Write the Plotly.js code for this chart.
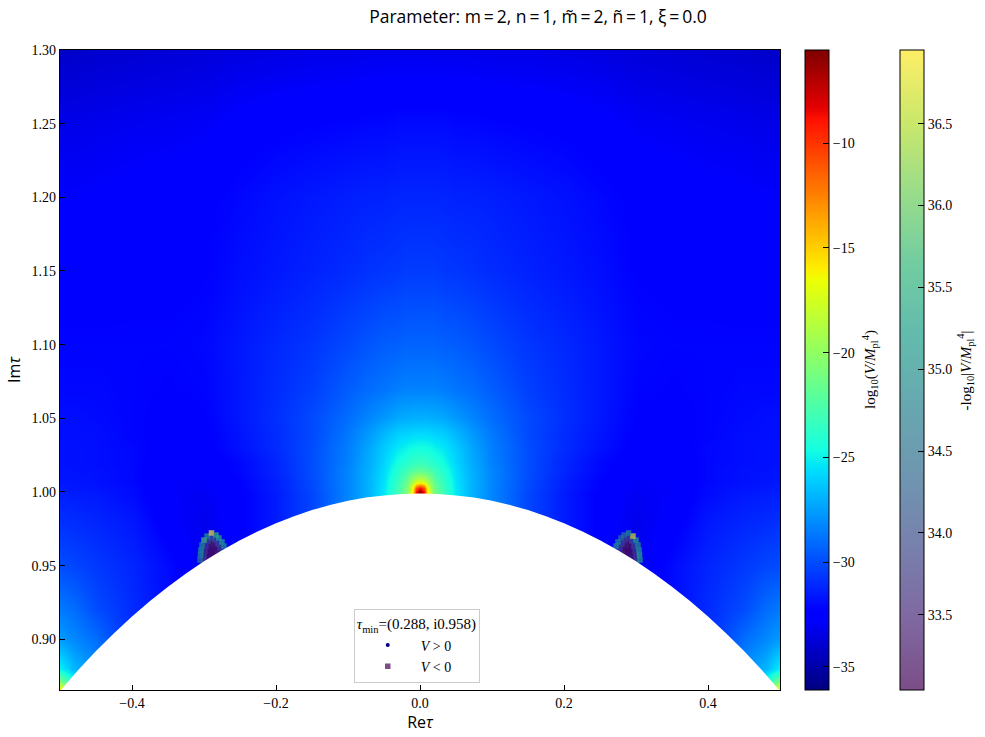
<!DOCTYPE html>
<html><head><meta charset="utf-8">
<script src="https://cdn.plot.ly/plotly-3.0.1.min.js"></script>
<style>html,body{margin:0;padding:0;background:#fff}</style></head>
<body><div id="chart" style="width:985px;height:737px"></div>
<script>
// Re(tau) columns, right half; the picture is mirror symmetric about Re(tau)=0
const reHalf=[0,.005,.01,.015,.02,.03,.05,.07,.1,.15,.2,.25,.3,.35,.4,.45,.48,.5];
const imRows=[.866,.872,.88,.90,.92,.95,.98,1.0,1.003,1.0068,1.01,1.015,1.02,1.03,1.04,1.05,1.07,1.10,1.15,1.20,1.25,1.30];
// log10(V/Mpl^4), one row per imRows value
const logV=[
[-6,-9,-15.5,-19,-21,-23,-25.4,-26.8,-28.3,-30.2,-31.5,-32.4,-33,-31.5,-30.5,-27,-23,-16],
[-6,-9,-15.5,-19,-21,-23,-25.4,-26.8,-28.3,-30.2,-31.5,-32.4,-33,-31.5,-30.5,-27.5,-24.5,-21],
[-6,-9,-15.5,-19,-21,-23,-25.4,-26.8,-28.3,-30.2,-31.5,-32.4,-33,-32,-30.5,-28,-26.8,-25],
[-6,-9,-15.5,-19,-21,-23,-25.4,-26.8,-28.3,-30.2,-31.5,-32.4,-33,-32,-31,-29,-28.2,-27.6],
[-6,-9,-15.5,-19,-21,-23,-25.4,-26.8,-28.3,-30.2,-31.5,-32.4,-33,-32,-31,-30,-29,-28.6],
[-6,-9,-15.5,-19,-21,-23,-25.4,-26.8,-28.3,-30.2,-31.5,-32.4,-33.2,-32,-31.2,-30.6,-30.2,-30],
[-6,-9,-15.5,-19,-21,-23,-25.4,-26.8,-28.3,-30.2,-31.5,-32.4,-33.2,-32.6,-31.6,-31.2,-31,-30.9],
[-6,-9,-15.5,-19,-21,-23,-25.4,-26.8,-28.3,-30.2,-31.5,-32.4,-33,-32.8,-32,-31.6,-31.5,-31.4],
[-9,-11,-16,-19.2,-21.1,-23,-25.4,-26.8,-28.3,-30.1,-31.4,-32.3,-32.9,-32.8,-32,-31.7,-31.6,-31.5],
[-17,-17.5,-19,-20.5,-21.8,-23.3,-25.5,-26.8,-28.3,-30.1,-31.4,-32.3,-32.9,-32.8,-32.1,-31.8,-31.7,-31.6],
[-19.5,-19.7,-20.4,-21.3,-22.3,-23.6,-25.6,-26.8,-28.3,-30,-31.3,-32.2,-32.8,-32.7,-32.1,-31.8,-31.7,-31.7],
[-22,-22.1,-22.4,-22.8,-23.2,-24,-25.7,-26.9,-28.3,-30,-31.2,-32.1,-32.7,-32.6,-32.1,-31.8,-31.8,-31.7],
[-23.3,-23.3,-23.5,-23.7,-24,-24.5,-25.9,-27,-28.4,-30,-31.2,-32.1,-32.6,-32.6,-32.1,-31.9,-31.8,-31.8],
[-24.6,-24.6,-24.7,-24.8,-25,-25.3,-26.2,-27.2,-28.5,-30,-31,-31.8,-32.5,-32.5,-32.1,-31.9,-31.8,-31.8],
[-25.8,-25.8,-25.8,-25.9,-26,-26.1,-26.8,-27.6,-28.7,-30.1,-31,-31.7,-32.4,-32.4,-32.2,-31.9,-31.9,-31.9],
[-27,-27,-27,-27.1,-27.1,-27.2,-27.7,-28.2,-29,-30.1,-30.9,-31.6,-32.3,-32.4,-32.2,-32,-31.9,-31.9],
[-28.4,-28.4,-28.4,-28.4,-28.4,-28.5,-28.8,-29,-29.5,-30.4,-31,-31.6,-32.2,-32.3,-32.2,-32.1,-32.1,-32.1],
[-29.3,-29.3,-29.3,-29.3,-29.3,-29.4,-29.5,-29.7,-30.1,-30.7,-31.1,-31.6,-32.1,-32.2,-32.2,-32.2,-32.2,-32.2],
[-30.5,-30.5,-30.5,-30.5,-30.5,-30.6,-30.7,-30.8,-31,-31.3,-31.6,-31.9,-32.3,-32.4,-32.4,-32.5,-32.5,-32.5],
[-31.2,-31.2,-31.2,-31.2,-31.2,-31.2,-31.3,-31.3,-31.4,-31.6,-31.8,-32.1,-32.4,-32.5,-32.6,-32.7,-32.8,-32.8],
[-32,-32,-32,-32,-32,-32,-32.1,-32.1,-32.2,-32.3,-32.4,-32.6,-32.9,-33,-33.1,-33.2,-33.3,-33.3],
[-33.2,-33.2,-33.2,-33.2,-33.2,-33.2,-33.2,-33.2,-33.3,-33.3,-33.4,-33.5,-33.7,-33.8,-33.9,-34,-34.1,-34.2]];
// edge of the white region, right half
const edgeRe=[0,.025,.05,.075,.1,.125,.15,.175,.2,.225,.25,.275,.3,.325,.35,.375,.4,.425,.45,.475,.5];
const edgeIm=[.999,.9987,.9977,.9962,.994,.9912,.9877,.9836,.9788,.9733,.9672,.9604,.953,.9447,.9357,.926,.9155,.9042,.892,.879,.865];
// V<0 points of the left island, mirrored for the right one: -log10|V/Mpl^4|
const negReLeft=[-.2917,-.2903,-.2889,-.2875,-.2847,
 -.2958,-.2944,-.2931,-.2917,-.2896,-.2861,-.2833,-.2806,
 -.3007,-.3,-.2986,-.2972,-.2944,-.2896,-.2847,-.2806,-.2778,
 -.3056,-.3049,-.3042,-.3028,-.3,-.2958,-.2896,-.2833,-.2792,-.275,-.2722];
const negImLeft=[.951,.9538,.9572,.9606,.958,
 .9525,.9559,.9593,.9627,.9654,.964,.9613,.9586,
 .9532,.9566,.96,.9633,.9667,.9688,.9674,.9647,.962,
 .9538,.9572,.9606,.964,.9674,.9701,.9722,.9708,.9688,.9661,.9633];
const negValLeft=[33.05,33.1,33.1,33.15,33.2,
 33.2,33.2,33.15,33.2,33.3,33.3,33.2,33.3,
 33.7,33.8,33.6,33.7,33.8,34.1,34,33.9,33.8,
 34.6,35,35.2,35,35.8,35.2,36.9,35.6,35.4,35.3,35.1];
const negValRight=[33.05,33.1,33.15,33.1,33.2,
 33.2,33.3,33.15,33.2,33.2,33.3,33.2,33.3,
 33.8,33.7,33.7,33.8,34,33.8,33.7,33.8,33.7,
 35.2,35.4,35.3,35,35.3,36.7,35,34.6,34.5,34.9,35];
const jetTicks=[-35,-30,-25,-20,-15,-10];
const viridisTicks=[33.5,34,34.5,35,35.5,36,36.5];
const titleText='Parameter: m\u2009=\u20092, n\u2009=\u20091, m\u0303\u2009=\u20092, n\u0303\u2009=\u20091, \u03BE\u2009=\u20090.0';

const jet=[[0,'rgb(0,0,127)'],[.11,'rgb(0,0,255)'],[.125,'rgb(0,0,255)'],[.34,'rgb(0,219,255)'],[.35,'rgb(0,229,247)'],[.375,'rgb(20,255,226)'],[.64,'rgb(237,255,4)'],[.65,'rgb(247,246,0)'],[.66,'rgb(255,236,0)'],[.89,'rgb(255,18,0)'],[.91,'rgb(228,0,0)'],[1,'rgb(127,0,0)']];
const vir=['68,1,84','72,40,120','62,73,137','49,104,142','38,130,142','31,158,137','53,183,121','110,206,88','181,222,43','253,231,37']
  .map((c,i)=>[i/9,'rgba('+c+',0.7)']);
const mirror=a=>a.slice(1).reverse();
const xs=[...mirror(reHalf).map(v=>-v),...reHalf];
const zs=logV.map(r=>[...mirror(r),...r]);
const edgeXs=[...mirror(edgeRe).map(v=>-v),...edgeRe];
const edgeYs=[...mirror(edgeIm),...edgeIm];
const negRe=[...negReLeft,...negReLeft.map(v=>-v)];
const negIm=[...negImLeft,...negImLeft];
const negVal=[...negValLeft,...negValRight];
const serif='"Liberation Serif",serif', sans='"Open Sans",sans-serif';
const tickFont={family:serif,size:14,color:'#000'};

const traces=[
 {type:'heatmap',x:xs,y:imRows,z:zs,zmin:-36.1,zmax:-5.56,zsmooth:'best',colorscale:jet,hoverinfo:'skip',
  colorbar:{x:1.0347,xanchor:'left',xpad:0,ypad:0,y:0.5,yanchor:'middle',len:1,thickness:24,outlinewidth:1,outlinecolor:'#000',
   tickmode:'array',tickvals:jetTicks,ticks:'inside',ticklen:6,tickcolor:'#000',tickfont:tickFont}},
 {type:'scatter',mode:'markers',name:'<i>V</i> > 0',x:[null],y:[null],marker:{symbol:'circle',size:4,color:'#00007f'}},
 {type:'scatter',mode:'markers',name:'<i>V</i> &lt; 0',x:negRe,y:negIm,
  marker:{symbol:'square',size:5.5,color:negVal,cmin:33.04,cmax:36.95,colorscale:vir,line:{width:0},
   colorbar:{x:1.1667,xanchor:'left',xpad:0,ypad:0,y:0.5,yanchor:'middle',len:1,thickness:24,outlinewidth:1,outlinecolor:'#000',
    tickmode:'array',tickvals:viridisTicks,tickformat:'.1f',ticks:'inside',ticklen:6,tickcolor:'#000',tickfont:tickFont}}},
 {type:'scatter',mode:'lines',x:[...edgeXs,.5,-.5],y:[...edgeYs,.86,.86],fill:'toself',fillcolor:'#fff',line:{width:0},showlegend:false,hoverinfo:'skip'}
];
const layout={width:985,height:737,margin:{l:60,r:205,t:50,b:47},paper_bgcolor:'#fff',plot_bgcolor:'#fff',
 title:{text:titleText,font:{family:sans,size:17.5,color:'#000'},x:538/985,xanchor:'center',y:0.977,yanchor:'middle'},
 xaxis:{range:[-.5,.5],tick0:0,dtick:.2,tickformat:'.1f',ticks:'inside',ticklen:5,tickcolor:'#000',showline:true,mirror:true,linecolor:'#000',linewidth:1.3,showgrid:false,zeroline:false,
  tickfont:tickFont,title:{text:'Re<i>\u03C4</i>',font:{family:sans,size:16,color:'#000'},standoff:4}},
 yaxis:{range:[.8656,1.3],tick0:.9,dtick:.05,tickformat:'.2f',ticks:'inside',ticklen:5,tickcolor:'#000',showline:true,mirror:true,linecolor:'#000',linewidth:1.3,showgrid:false,zeroline:false,
  tickfont:tickFont,title:{text:'Im<i>\u03C4</i>',font:{family:sans,size:16,color:'#000'},standoff:6}},
 legend:{x:.408,y:.011,xanchor:'left',yanchor:'bottom',bgcolor:'rgba(255,255,255,0.85)',bordercolor:'#ccc',borderwidth:1,itemwidth:56,entrywidth:77,
  font:{family:serif,size:14,color:'#000'},title:{text:'<i>\u03C4</i><sub>min</sub>=(0.288, i0.958)',font:{family:serif,size:15,color:'#000'}}},
 annotations:[
  {text:'log<sub>10</sub>(<i>V</i>/<i>M</i><sub>pl</sub><sup>4</sup>)',xref:'paper',yref:'paper',x:1.125,y:.5,xanchor:'center',yanchor:'middle',textangle:-90,showarrow:false,font:{family:serif,size:15,color:'#000'}},
  {text:'-log<sub>10</sub>|<i>V</i>/<i>M</i><sub>pl</sub><sup>4</sup>|',xref:'paper',yref:'paper',x:1.2575,y:.5,xanchor:'center',yanchor:'middle',textangle:-90,showarrow:false,font:{family:serif,size:15,color:'#000'}}
 ]};
Plotly.newPlot('chart',traces,layout,{displayModeBar:false,staticPlot:true});
</script></body></html>
